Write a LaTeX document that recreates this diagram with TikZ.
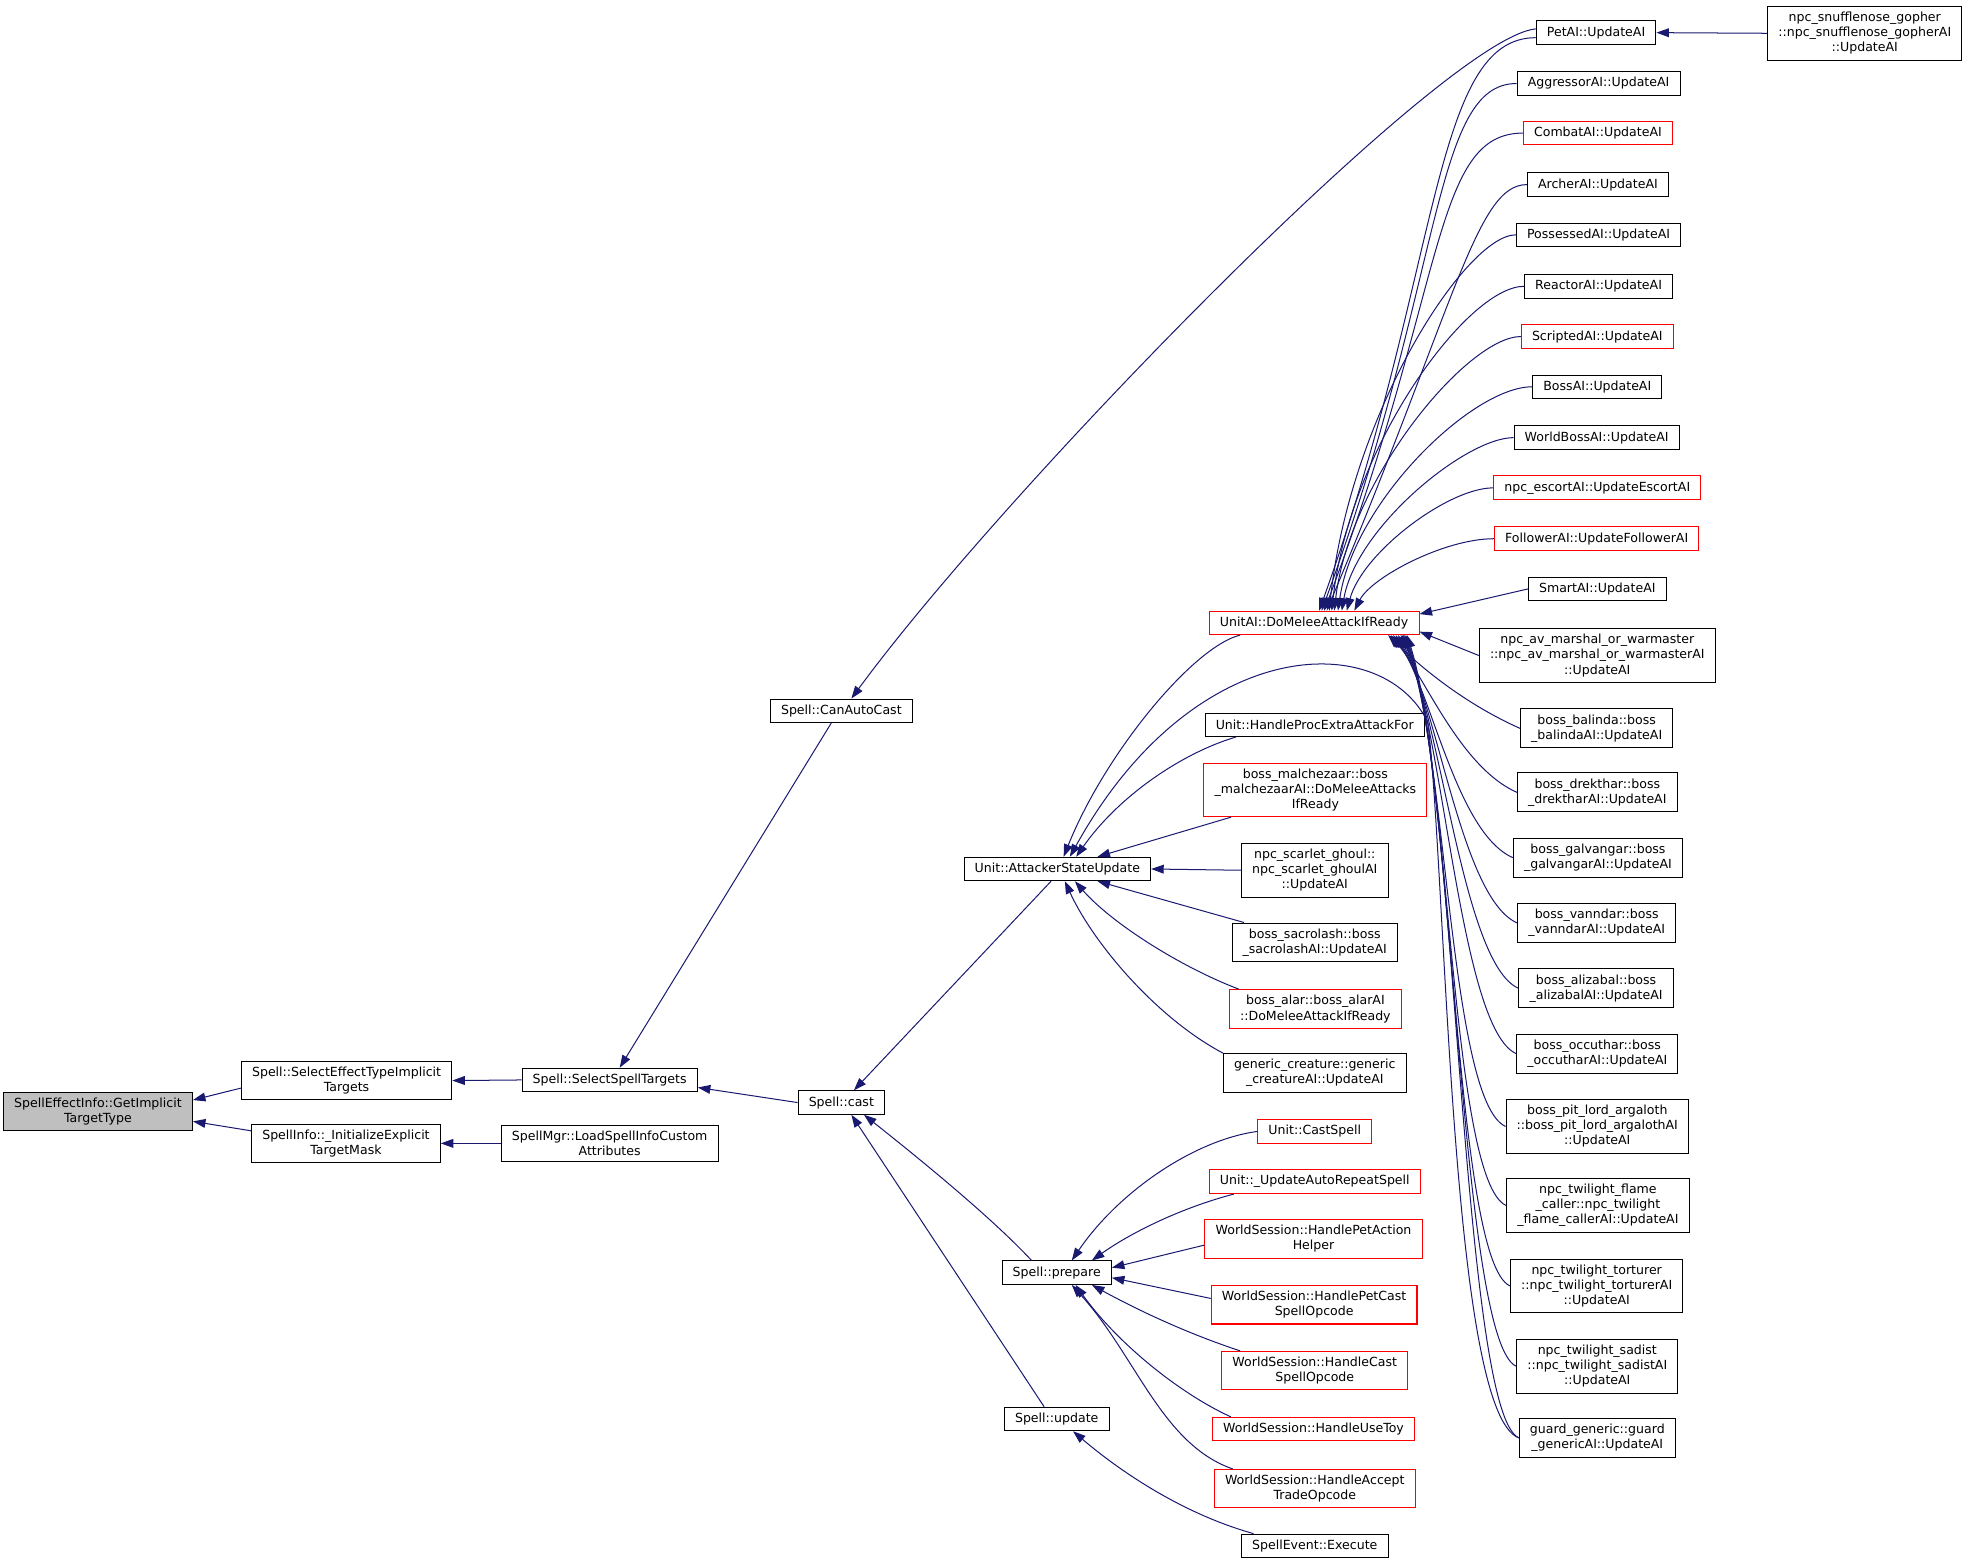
\documentclass[tikz,border=0pt]{standalone}
\usepackage{fontspec}
\setmainfont{DejaVu Sans}
\usetikzlibrary{arrows.meta}

\definecolor{callblue}{RGB}{25,25,112}
\definecolor{rootgray}{RGB}{191,191,191}

\tikzset{
  fn/.style={draw=black, fill=white, line width=0.8pt, align=center,
    inner xsep=8.5pt, inner ysep=4.5pt, minimum height=18pt,
    font=\fontsize{10}{12}\selectfont},
  trunc/.style={fn, draw=red},
  call/.style={draw=callblue, line width=0.8pt,
    -{Triangle[length=10pt,width=7pt]}}
}

\begin{document}
\begin{tikzpicture}[x=1pt, y=-1pt]
      \useasboundingbox (0,0) rectangle (1568,1248);

      % left part of the graph
      \node[fn, fill=rootgray] (getTarget) at (78,885) {SpellEffectInfo::GetImplicit\\TargetType};
      \node[fn] (selEffect) at (276,860.5) {Spell::SelectEffectTypeImplicit\\Targets};
      \node[fn] (initMask) at (275.5,910.5) {SpellInfo::\_InitializeExplicit\\TargetMask};
      \node[fn] (selTargets) at (485.5,860) {Spell::SelectSpellTargets};
      \node[fn] (loadAttr) at (485.5,910.5) {SpellMgr::LoadSpellInfoCustom\\Attributes};
      \node[fn] (canAuto) at (670,566) {Spell::CanAutoCast};
      \node[fn] (cast) at (670,878) {Spell::cast};
      \node[fn] (attUpd) at (842,692) {Unit::AttackerStateUpdate};
      \node[fn] (prepare) at (841.5,1013.5) {Spell::prepare};
      \node[fn] (update) at (841.5,1130) {Spell::update};

      % middle column
      \node[trunc] (melee) at (1046.5,496) {UnitAI::DoMeleeAttackIfReady};
      \node[fn] (procExtra) at (1047,577.5) {Unit::HandleProcExtraAttackFor};
      \node[trunc] (malchez) at (1047.5,629) {boss\_malchezaar::boss\\\_malchezaarAI::DoMeleeAttacks\\IfReady};
      \node[fn] (ghoul) at (1047,693) {npc\_scarlet\_ghoul::\\npc\_scarlet\_ghoulAI\\::UpdateAI};
      \node[fn] (sacro) at (1047,750.5) {boss\_sacrolash::boss\\\_sacrolashAI::UpdateAI};
      \node[trunc] (alar) at (1047.5,803.5) {boss\_alar::boss\_alarAI\\::DoMeleeAttackIfReady};
      \node[fn] (generic) at (1047,854.5) {generic\_creature::generic\\\_creatureAI::UpdateAI};
      \node[trunc] (castSpell) at (1047,901) {Unit::CastSpell};
      \node[trunc] (autoRepeat) at (1047,941) {Unit::\_UpdateAutoRepeatSpell};
      \node[trunc] (petAction) at (1046,986.5) {WorldSession::HandlePetAction\\Helper};
      \node[trunc] (petCast) at (1046.5,1039) {WorldSession::HandlePetCast\\SpellOpcode};
      \node[trunc] (handleCast) at (1047,1091.5) {WorldSession::HandleCast\\SpellOpcode};
      \node[trunc] (useToy) at (1046,1138) {WorldSession::HandleUseToy};
      \node[trunc] (acceptTrade) at (1047,1185.5) {WorldSession::HandleAccept\\TradeOpcode};
      \node[fn] (execute) at (1047,1231) {SpellEvent::Execute};

      % right column
      \node[fn] (petAI) at (1271,26) {PetAI::UpdateAI};
      \node[fn] (aggressor) at (1273,66.5) {AggressorAI::UpdateAI};
      \node[trunc] (combat) at (1272.5,106) {CombatAI::UpdateAI};
      \node[fn] (archer) at (1272.5,147) {ArcherAI::UpdateAI};
      \node[fn] (possessed) at (1273,187) {PossessedAI::UpdateAI};
      \node[fn] (reactor) at (1273,228) {ReactorAI::UpdateAI};
      \node[trunc] (scripted) at (1272,268) {ScriptedAI::UpdateAI};
      \node[fn] (bossAI) at (1272,308) {BossAI::UpdateAI};
      \node[fn] (worldBoss) at (1271.5,348.5) {WorldBossAI::UpdateAI};
      \node[trunc] (escort) at (1272,388.5) {npc\_escortAI::UpdateEscortAI};
      \node[trunc] (follower) at (1271.5,429) {FollowerAI::UpdateFollowerAI};
      \node[fn] (smart) at (1272,469) {SmartAI::UpdateAI};
      \node[fn] (avMarshal) at (1272,522) {npc\_av\_marshal\_or\_warmaster\\::npc\_av\_marshal\_or\_warmasterAI\\::UpdateAI};
      \node[fn] (balinda) at (1271.5,580) {boss\_balinda::boss\\\_balindaAI::UpdateAI};
      \node[fn] (drekthar) at (1272,631) {boss\_drekthar::boss\\\_drektharAI::UpdateAI};
      \node[fn] (galvangar) at (1272.5,683) {boss\_galvangar::boss\\\_galvangarAI::UpdateAI};
      \node[fn] (vanndar) at (1271.5,735) {boss\_vanndar::boss\\\_vanndarAI::UpdateAI};
      \node[fn] (alizabal) at (1271,787) {boss\_alizabal::boss\\\_alizabalAI::UpdateAI};
      \node[fn] (occuthar) at (1272,839) {boss\_occuthar::boss\\\_occutharAI::UpdateAI};
      \node[fn] (pitLord) at (1272,897) {boss\_pit\_lord\_argaloth\\::boss\_pit\_lord\_argalothAI\\::UpdateAI};
      \node[fn] (flameCaller) at (1272.5,960) {npc\_twilight\_flame\\\_caller::npc\_twilight\\\_flame\_callerAI::UpdateAI};
      \node[fn] (torturer) at (1271.5,1024) {npc\_twilight\_torturer\\::npc\_twilight\_torturerAI\\::UpdateAI};
      \node[fn] (sadist) at (1272,1088) {npc\_twilight\_sadist\\::npc\_twilight\_sadistAI\\::UpdateAI};
      \node[fn] (guard) at (1272,1145) {guard\_generic::guard\\\_genericAI::UpdateAI};
      \node[fn] (gopher) at (1485,26.5) {npc\_snufflenose\_gopher\\::npc\_snufflenose\_gopherAI\\::UpdateAI};

      % callers of the selected function
      \draw[call] ([yshift=-6]selEffect.west) -- ([yshift=9]getTarget.east);
      \draw[call] ([yshift=10]initMask.west) -- ([yshift=-8]getTarget.east);
      \draw[call] (selTargets.west) -- (selEffect.east);
      \draw[call] (loadAttr.west) -- (initMask.east);
      \draw[call] ([xshift=-8]canAuto.south) -- ([xshift=8]selTargets.north);
      \draw[call] (cast.west) -- ([yshift=-6]selTargets.east);
      \draw[call] ([yshift=3]petAI.west) .. controls (1150,30) and (800,390) .. ([xshift=8]canAuto.north);

      % callers of Spell::cast
      \draw[call] ([xshift=-5]attUpd.south) -- ([xshift=10]cast.north);
      \draw[call] ([xshift=-20]prepare.north) .. controls (790,970) and (735,925) .. ([xshift=18]cast.south);
      \draw[call] ([xshift=-10]update.north) -- ([xshift=8]cast.south);

      % callers of Unit::AttackerStateUpdate
      \draw[call] ([xshift=25]melee.south west) .. controls (950,515) and (880,600) .. ([xshift=5]attUpd.north);
      \draw[call] (guard.west) .. controls (1155,1125) and (1152,700) .. (1137,575)
          .. controls (1100,500) and (950,505) .. ([xshift=10]attUpd.north);
      \draw[call] ([xshift=25]procExtra.south west) .. controls (940,600) and (890,635) .. ([xshift=15]attUpd.north);
      \draw[call] ([xshift=22]malchez.south west) -- ([xshift=32]attUpd.north);
      \draw[call] (ghoul.west) -- (attUpd.east);
      \draw[call] ([xshift=10]sacro.north west) -- ([xshift=32]attUpd.south);
      \draw[call] ([xshift=8]alar.north west) .. controls (940,770) and (885,735) .. ([xshift=14]attUpd.south);
      \draw[call] (generic.north west) .. controls (920,810) and (870,750) .. ([xshift=6]attUpd.south);

      % callers of Spell::prepare and Spell::update
      \draw[call] (castSpell.west) .. controls (950,908) and (890,950) .. ([xshift=12]prepare.north);
      \draw[call] ([xshift=20]autoRepeat.south west) .. controls (940,962) and (900,982) .. ([xshift=28]prepare.north);
      \draw[call] ([yshift=-5]petAction.west) -- ([yshift=4]prepare.east);
      \draw[call] ([yshift=5]petCast.west) -- ([yshift=-4]prepare.east);
      \draw[call] ([xshift=15]handleCast.north west) .. controls (940,1060) and (900,1040) .. ([xshift=28]prepare.south);
      \draw[call] ([xshift=15]useToy.north west) .. controls (940,1110) and (890,1070) .. ([xshift=15]prepare.south);
      \draw[call] ([xshift=15]acceptTrade.north west) .. controls (925,1150) and (905,1080) .. ([xshift=12]prepare.south);
      \draw[call] ([xshift=10]execute.north west) .. controls (940,1205) and (890,1170) .. ([xshift=13]update.south);

      % callers of UnitAI::DoMeleeAttackIfReady
      \draw[call] (gopher.west) -- (petAI.east);
      \draw[call] ([yshift=-4]petAI.west) .. controls (1140,30) and (1148,215) .. ([xshift=4]melee.north);
      \foreach \src/\h/\dx/\cx/\cy in {aggressor/67/6/1150/220, combat/72/8/1152/228,
          archer/40/10/1160/240, possessed/40/12/1075/330, reactor/45/14/1075/355,
          scripted/42/16/1075/380, bossAI/48/19/1078/400, worldBoss/38/22/1080/420,
          escort/36/26/1085/440, follower/40/32/1092/460}
        \draw[call] (\src.west) .. controls +(-\h,0) and (\cx,\cy) .. ([xshift=\dx]melee.north);
      \draw[call] (smart.west) -- ([yshift=7]melee.east);
      \draw[call] (avMarshal.west) -- ([yshift=-7]melee.east);
      \foreach \src/\dx/\cx/\cy in {balinda/-25/1130/530, drekthar/-23/1135/540,
          galvangar/-21/1140/550, vanndar/-19/1145/560, alizabal/-17/1148/570,
          occuthar/-15/1150/580, pitLord/-14/1152/590, flameCaller/-13/1155/600,
          torturer/-12/1157/610, sadist/-11/1158/620, guard/-10/1160/630}
        \draw[call] (\src.west) .. controls +(-45,-20) and (\cx,\cy) .. ([xshift=\dx]melee.south east);

    \end{tikzpicture}
\end{document}
